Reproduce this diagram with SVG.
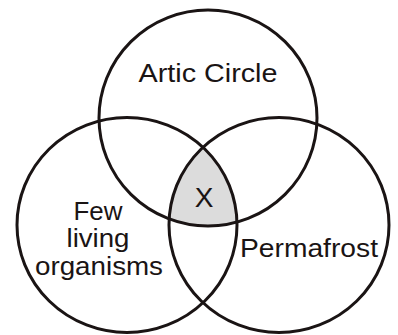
<svg xmlns="http://www.w3.org/2000/svg" width="398" height="335" viewBox="0 0 398 335">
  <style>
    .ring { fill: none; stroke: #1a1414; stroke-width: 3; }
    .lbl { font-family: "Liberation Sans", "DejaVu Sans", sans-serif; fill: #1a1414; text-anchor: middle; }
  </style>
  <defs>
    <clipPath id="clipLeft"><ellipse cx="127" cy="225" rx="110" ry="107.5"/></clipPath>
    <clipPath id="clipRight"><ellipse cx="279" cy="225" rx="110" ry="107.5"/></clipPath>
  </defs>
  <rect width="398" height="335" fill="#ffffff"/>
  <g id="overlap-x">
    <g clip-path="url(#clipLeft)">
      <ellipse cx="208" cy="118" rx="109" ry="108" fill="#dcdcdc" clip-path="url(#clipRight)"/>
    </g>
    <text class="lbl" x="204" y="207" font-size="28">X</text>
  </g>
  <g id="connectors"></g>
  <g id="artic-circle">
    <ellipse class="ring" cx="208" cy="118" rx="109" ry="108"/>
    <text class="lbl" x="208" y="82" font-size="26" textLength="139" lengthAdjust="spacingAndGlyphs">Artic Circle</text>
  </g>
  <g id="few-living-organisms">
    <ellipse class="ring" cx="127" cy="225" rx="110" ry="107.5"/>
    <text class="lbl" x="98" y="220" font-size="25" textLength="49" lengthAdjust="spacingAndGlyphs">Few</text>
    <text class="lbl" x="98" y="247" font-size="25" textLength="63" lengthAdjust="spacingAndGlyphs">living</text>
    <text class="lbl" x="99" y="275" font-size="25" textLength="128" lengthAdjust="spacingAndGlyphs">organisms</text>
  </g>
  <g id="permafrost">
    <ellipse class="ring" cx="279" cy="225" rx="110" ry="107.5"/>
    <text class="lbl" x="309" y="257" font-size="25" textLength="138" lengthAdjust="spacingAndGlyphs">Permafrost</text>
  </g>
</svg>
